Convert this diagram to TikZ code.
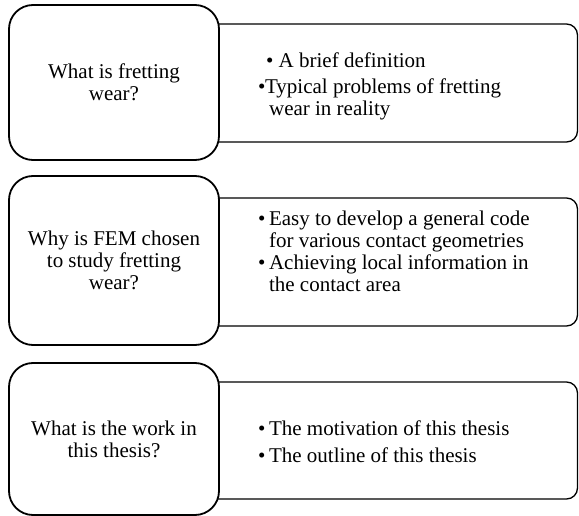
\documentclass[tikz,border=0pt]{standalone}
\usepackage{fontspec}
\setmainfont{Liberation Serif}
\usetikzlibrary{positioning}
\tikzset{
  question/.style={draw, line width=1.8pt, rounded corners=24pt, fill=white,
    align=center, inner sep=0pt, minimum width=210pt},
  answer/.style={draw, line width=1.3pt, rounded corners=11pt, inner sep=0pt,
    minimum width=427pt},
  items/.style={align=left, inner sep=0pt},
}
\newcommand{\bul}{\makebox[11pt][l]{\textbullet}}
\newcommand{\hang}{\hspace*{11pt}}

\begin{document}
\begin{tikzpicture}[x=1pt, y=-1pt, font=\fontsize{21}{22}\selectfont]
  \useasboundingbox (0,0) rectangle (579,516);
  % answer boxes (left side hidden behind the questions)
  \node[answer, minimum height=118pt] (a1) at (364, 83) {};
  \node[answer, minimum height=128pt] (a2) at (364, 262) {};
  \node[answer, minimum height=117pt] (a3) at (364, 440.5) {};
  % question boxes
  \node[question, minimum height=155pt] (q1) at (114, 82.5)
    {What is fretting\\wear?};
  \node[question, minimum height=169pt] (q2) at (114, 260.5)
    {Why is FEM chosen\\to study fretting\\wear?};
  \node[question, minimum height=152pt] (q3) at (114, 439)
    {What is the work in\\this thesis?};
  % bullet lists
  \node[items, right=38pt of q1.east, yshift=-4pt] (t1)
    {\hspace*{8pt}\textbullet\ A brief definition\\[4pt]
     \makebox[6pt][l]{\textbullet}\hspace*{1pt}Typical problems of fretting\\
     \hang wear in reality};
  \node[items, right=38pt of q2.east, yshift=9.5pt] (t2)
    {\bul Easy to develop a general code\\
     \hang for various contact geometries\\
     \bul Achieving local information in\\
     \hang the contact area};
  \node[items, right=38pt of q3.east, yshift=-3pt] (t3)
    {\bul The motivation of this thesis\\[5pt]
     \bul The outline of this thesis};
\end{tikzpicture}
\end{document}
